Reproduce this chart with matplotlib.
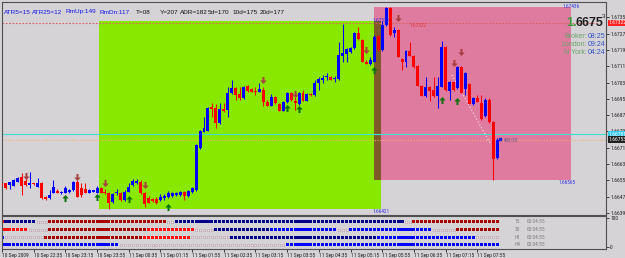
import numpy as np
import matplotlib
matplotlib.use("Agg")
import matplotlib.pyplot as plt
from matplotlib import font_manager
from matplotlib.path import Path
from matplotlib.patches import Rectangle

W, H = 625, 258
BG = '#d6d3d6'

_have = {f.name for f in font_manager.fontManager.ttflist}
NARROW = next((n for n in ['Liberation Sans Narrow', 'DejaVu Sans Condensed', 'Roboto Condensed',
                           'Open Sans Condensed'] if n in _have), None)
TICK_FS = 4.0 if NARROW else 3.5
NARROW = NARROW or 'Liberation Sans'
plt.rcParams['font.family'] = [NARROW, 'Liberation Sans', 'DejaVu Sans']

# 5 minute bars, 10 Sep 21:55 .. 11 Sep 08:20
opens = [1.66540, 1.66543, 1.66533, 1.66530, 1.66549, 1.66572, 1.66553, 1.66535, 1.66541, 1.66525,
         1.66543, 1.66476, 1.66470, 1.66496, 1.66505, 1.66493, 1.66494, 1.66498, 1.66509, 1.66549,
         1.66518, 1.66514, 1.66496, 1.66499, 1.66496, 1.66518, 1.66500, 1.66494, 1.66452, 1.66494,
         1.66494, 1.66460, 1.66500, 1.66535, 1.66543, 1.66549, 1.66494, 1.66470, 1.66465, 1.66465,
         1.66460, 1.66468, 1.66475, 1.66480, 1.66484, 1.66484, 1.66500, 1.66480, 1.66498, 1.66509,
         1.66712, 1.66793, 1.66798, 1.66911, 1.66907, 1.66837, 1.66903, 1.66898, 1.66983, 1.67004,
         1.66976, 1.66955, 1.67015, 1.66999, 1.66992, 1.66988, 1.66996, 1.66939, 1.66920, 1.66960,
         1.66928, 1.66895, 1.66939, 1.66983, 1.66944, 1.66928, 1.66983, 1.66944, 1.66976, 1.66971,
         1.67028, 1.67044, 1.67058, 1.67061, 1.67048, 1.67049, 1.67161, 1.67170, 1.67182, 1.67199,
         1.67272, 1.67239, 1.67134, 1.67122, 1.67134, 1.67259, 1.67191, 1.67312, 1.67394, 1.67272,
         1.67288, 1.67145, 1.67134, 1.67187, 1.67163, 1.67113, 1.67015, 1.66966, 1.67009, 1.66996,
         1.66966, 1.67012, 1.67204, 1.66992, 1.67036, 1.67004, 1.67106, 1.66999, 1.67025, 1.66928,
         1.66958, 1.66931, 1.66869, 1.66947, 1.66842, 1.66663]
highs = [1.66543, 1.66545, 1.66550, 1.66560, 1.66574, 1.66591, 1.66577, 1.66595, 1.66543, 1.66567,
         1.66548, 1.66480, 1.66509, 1.66557, 1.66514, 1.66504, 1.66528, 1.66514, 1.66553, 1.66557,
         1.66543, 1.66543, 1.66514, 1.66511, 1.66528, 1.66523, 1.66514, 1.66499, 1.66494, 1.66514,
         1.66499, 1.66509, 1.66541, 1.66561, 1.66560, 1.66555, 1.66499, 1.66480, 1.66472, 1.66475,
         1.66489, 1.66489, 1.66504, 1.66497, 1.66499, 1.66504, 1.66504, 1.66509, 1.66521, 1.66733,
         1.66801, 1.66866, 1.66913, 1.66931, 1.66928, 1.66931, 1.66931, 1.67012, 1.67044, 1.67010,
         1.67012, 1.67015, 1.67018, 1.67003, 1.67012, 1.67028, 1.67012, 1.66945, 1.66976, 1.66964,
         1.66932, 1.66942, 1.66986, 1.66986, 1.66962, 1.66986, 1.66996, 1.66981, 1.66981, 1.67044,
         1.67061, 1.67069, 1.67077, 1.67064, 1.67064, 1.67231, 1.67317, 1.67200, 1.67205, 1.67278,
         1.67301, 1.67244, 1.67142, 1.67158, 1.67264, 1.67264, 1.67333, 1.67401, 1.67401, 1.67304,
         1.67293, 1.67152, 1.67191, 1.67231, 1.67166, 1.67117, 1.67020, 1.67061, 1.67013, 1.67061,
         1.67061, 1.67234, 1.67210, 1.67039, 1.67039, 1.67113, 1.67110, 1.67081, 1.67030, 1.66963,
         1.66971, 1.66971, 1.66955, 1.66955, 1.66845, 1.66761]
lows = [1.66533, 1.66516, 1.66514, 1.66528, 1.66548, 1.66484, 1.66526, 1.66520, 1.66535, 1.66523,
        1.66467, 1.66462, 1.66467, 1.66494, 1.66494, 1.66489, 1.66492, 1.66494, 1.66504, 1.66475,
        1.66476, 1.66494, 1.66492, 1.66497, 1.66494, 1.66492, 1.66489, 1.66416, 1.66445, 1.66484,
        1.66455, 1.66455, 1.66497, 1.66528, 1.66538, 1.66489, 1.66424, 1.66445, 1.66450, 1.66440,
        1.66455, 1.66460, 1.66470, 1.66475, 1.66480, 1.66480, 1.66460, 1.66475, 1.66494, 1.66504,
        1.66706, 1.66789, 1.66794, 1.66866, 1.66811, 1.66830, 1.66890, 1.66866, 1.66976, 1.66947,
        1.66947, 1.66952, 1.66988, 1.66984, 1.66971, 1.66984, 1.66918, 1.66916, 1.66916, 1.66928,
        1.66891, 1.66891, 1.66932, 1.66944, 1.66898, 1.66923, 1.66940, 1.66940, 1.66966, 1.66966,
        1.66996, 1.67028, 1.67044, 1.67042, 1.67036, 1.67044, 1.67134, 1.67134, 1.67178, 1.67196,
        1.67239, 1.67132, 1.67120, 1.67117, 1.67130, 1.67186, 1.67186, 1.67307, 1.67259, 1.67255,
        1.67154, 1.67093, 1.67109, 1.67161, 1.67105, 1.67013, 1.66964, 1.66962, 1.66944, 1.66962,
        1.66907, 1.67008, 1.66993, 1.66947, 1.66993, 1.67001, 1.66981, 1.66971, 1.66925, 1.66923,
        1.66937, 1.66850, 1.66864, 1.66837, 1.66557, 1.66660]
closes = [1.66535, 1.66518, 1.66548, 1.66557, 1.66569, 1.66528, 1.66533, 1.66543, 1.66536, 1.66543,
          1.66470, 1.66465, 1.66484, 1.66525, 1.66496, 1.66500, 1.66518, 1.66509, 1.66548, 1.66476,
          1.66484, 1.66496, 1.66509, 1.66509, 1.66518, 1.66494, 1.66493, 1.66447, 1.66489, 1.66499,
          1.66460, 1.66500, 1.66525, 1.66554, 1.66554, 1.66493, 1.66440, 1.66447, 1.66455, 1.66445,
          1.66476, 1.66481, 1.66496, 1.66493, 1.66493, 1.66500, 1.66480, 1.66504, 1.66517, 1.66728,
          1.66796, 1.66809, 1.66907, 1.66902, 1.66834, 1.66903, 1.66895, 1.66983, 1.67004, 1.66971,
          1.66955, 1.67012, 1.66992, 1.66988, 1.66988, 1.66999, 1.66939, 1.66920, 1.66960, 1.66931,
          1.66895, 1.66939, 1.66983, 1.66947, 1.66931, 1.66983, 1.66944, 1.66976, 1.66970, 1.67028,
          1.67049, 1.67053, 1.67064, 1.67044, 1.67056, 1.67166, 1.67174, 1.67194, 1.67201, 1.67272,
          1.67243, 1.67134, 1.67122, 1.67142, 1.67255, 1.67191, 1.67312, 1.67394, 1.67264, 1.67288,
          1.67158, 1.67134, 1.67187, 1.67163, 1.67109, 1.67015, 1.66966, 1.67009, 1.66991, 1.66966,
          1.67015, 1.67204, 1.66996, 1.67036, 1.66996, 1.67109, 1.66983, 1.67077, 1.66928, 1.66958,
          1.66939, 1.66853, 1.66947, 1.66842, 1.66658, 1.66753]

# fractal style arrows
down_bars = [6, 19, 26, 36, 66, 74, 92, 100, 114, 116]
down_px = [1.66577, 1.66572, 1.66543, 1.66535, 1.67044, 1.66976, 1.67191, 1.67346, 1.67127, 1.67181]
up_bars = [16, 24, 32, 42, 72, 75, 94, 111, 115]
up_px = [1.66470, 1.66475, 1.66467, 1.66428, 1.66906, 1.66901, 1.67091, 1.66947, 1.66942]

# session boxes (bar index range, price range)
asia_x = (24.6, 95.7)
asia_y = (1.66416, 1.67333)
london_x = (93.9, 143.7)
london_y = (1.66557, 1.67401)
asia_labels = ('1.67332', '1.66421')
london_labels = ('1.67436', '1.66565')

bid = 1.66753
cyan_level = 1.66781
red_level = 1.67322
trend_x = [113.6, 123.2]
trend_y = [1.67069, 1.66738]

price_ticks = [1.67350, 1.67270, 1.67190, 1.67110, 1.67030, 1.66950, 1.66875,
               1.66795, 1.66715, 1.66635, 1.66555, 1.66475, 1.66395]
time_ticks = list(range(0, 121, 8))
time_labels = ['10 Sep 2009', '10 Sep 22:35', '10 Sep 23:15', '10 Sep 23:55', '11 Sep 00:35',
               '11 Sep 01:15', '11 Sep 01:55', '11 Sep 02:35', '11 Sep 03:15', '11 Sep 03:55',
               '11 Sep 04:35', '11 Sep 05:15', '11 Sep 05:55', '11 Sep 06:35', '11 Sep 07:15',
               '11 Sep 07:55']

# trend strength rows (run lengths per bar)
row_names = ['15', '30', 'H1', 'H4']
row_runs = [
    [('R', 1), ('b', 8), ('o', 3), ('r', 30), ('o', 2), ('b', 58), ('o', 2), ('r', 22)],
    [('R', 7), ('o', 5), ('r', 25), ('R', 12), ('o', 5), ('b', 14), ('B', 17), ('o', 3),
     ('B', 21), ('o', 6), ('r', 11)],
    [('B', 1), ('o', 10), ('r', 25), ('R', 12), ('o', 10), ('b', 37), ('B', 25), ('o', 6)],
    [('B', 30), ('o', 42), ('B', 54)],
]
row_timer = '00:04:55'

fig = plt.figure(figsize=(W / 100, H / 100), dpi=100, facecolor=BG)


def px_box(x0, y0, x1, y1):
    return [x0 / W, 1 - y1 / H, (x1 - x0) / W, (y1 - y0) / H]


ax = fig.add_axes(px_box(2, 2, 606, 215), facecolor=BG)
sub = fig.add_axes(px_box(2, 216, 606, 249), facecolor=BG)

ax.set_xlim(0, 152.5)
ax.set_ylim(1.66387, 1.67424)

# boxes
ax.add_patch(Rectangle((asia_x[0], asia_y[0]), asia_x[1] - asia_x[0], asia_y[1] - asia_y[0],
                       facecolor='#88e800', lw=0, zorder=1))
ax.add_patch(Rectangle((london_x[0], london_y[0]), london_x[1] - london_x[0], london_y[1] - london_y[0],
                       facecolor='#e07ba0', lw=0, zorder=1))
ov_x0, ov_x1 = max(asia_x[0], london_x[0]), min(asia_x[1], london_x[1])
ov_y0, ov_y1 = max(asia_y[0], london_y[0]), min(asia_y[1], london_y[1])
ax.add_patch(Rectangle((ov_x0, ov_y0), ov_x1 - ov_x0, ov_y1 - ov_y0,
                       facecolor='#7d5a28', lw=0, zorder=1.5))

# level lines
ax.axhline(cyan_level, color='#40e0d0', lw=0.8, zorder=2)
ax.axhline(bid, color='#f0b070', lw=0.8, ls=(0, (1, 1.5)), zorder=2)
ax.axhline(red_level, xmax=0.985, color='#d86060', lw=0.8, ls=(0, (1.5, 1.5)), zorder=2)
ax.plot(trend_x, trend_y, color='#f8e4ee', lw=0.8, ls=(0, (1, 2)), zorder=2)

# candles
bars = np.arange(len(opens))
o, h, l, c = map(np.array, (opens, highs, lows, closes))
col = np.where(c >= o, '#0000ff', '#ff0000')
ax.vlines(bars, l, h, colors=col, lw=0.75, zorder=3)
body_lo = np.minimum(o, c)
body_h = np.maximum(np.abs(c - o), 0.00005)
ax.bar(bars, body_h, bottom=body_lo, width=0.75, color=col, lw=0, zorder=4)

# arrows
down_path = Path([(-0.14, 0.5), (0.14, 0.5), (0.14, 0.0), (0.45, 0.0), (0.0, -0.5),
                  (-0.45, 0.0), (-0.14, 0.0), (-0.14, 0.5)], closed=True)
up_path = Path([(x, -y) for x, y in down_path.vertices], closed=True)
ax.scatter(down_bars, down_px, marker=down_path, s=26, color='#a84040', lw=0, zorder=5)
ax.scatter(up_bars, up_px, marker=up_path, s=26, color='#0c700c', lw=0, zorder=5)

# box labels
small = dict(fontsize=3.8, color='#3030e0', zorder=6)
ax.text(asia_x[1], asia_y[1], asia_labels[0], ha='center', va='center', **small)
ax.text(asia_x[1], asia_y[0], asia_labels[1], ha='center', va='top', **small)
ax.text(london_x[1], london_y[1], london_labels[0], ha='center', va='center', **small)
ax.text(london_x[1] - 1, london_y[0], london_labels[1], ha='center', va='top', **small)
ax.text(103, red_level, f'{red_level:.5f}', ha='left', va='top', fontsize=3.8,
        color='#e03838', zorder=6)
ax.scatter([bars[-1] + 0.8], [bid + 0.00005], marker='s', s=3, color='#2020d0', zorder=6)
ax.text(bars[-1] + 1.6, bid - 0.00002, '408/33', fontsize=3.6, color='#6a5a8a', va='center', zorder=6)

# axes styling
for sp in ax.spines.values():
    sp.set_color('#505050')
    sp.set_linewidth(0.8)
ax.set_xticks([])
ax.yaxis.tick_right()
ax.set_yticks(price_ticks)
ax.set_yticklabels([f'{v:.5f}' for v in price_ticks])
ax.tick_params(axis='y', length=2, width=0.6, pad=1, labelsize=TICK_FS, colors='#202020')

# right axis price boxes
ytr = ax.get_yaxis_transform()
for val, fc in ((red_level, '#ff2020'), (cyan_level, '#30c8f0'), (bid, '#202020')):
    ax.text(1.004, val, f'{val:.5f}', transform=ytr, fontsize=TICK_FS, color='white', va='center',
            ha='left', clip_on=False, zorder=7,
            bbox=dict(boxstyle='square,pad=0.15', fc=fc, ec='none'))

# subwindow
sub.set_xlim(0, 152.5)
sub.set_ylim(-6, 106)
row_levels = [86, 60, 34, 8]
fills = {'R': '#ff1010', 'r': '#a80000', 'B': '#0000ff', 'b': '#00008c'}
for lvl, runs, name in zip(row_levels, row_runs, row_names):
    codes = ''.join(k * n for k, n in runs)
    idx = np.arange(len(codes))
    solid = np.array([k != 'o' for k in codes])
    sub.scatter(idx[solid], np.full(solid.sum(), lvl), marker='s', s=5.0,
                color=[fills[k] for k in codes if k != 'o'], lw=0)
    sub.scatter(idx[~solid], np.full((~solid).sum(), lvl), marker='s', s=4.0,
                facecolor='#f4f0f4', edgecolor='#b89aa6', lw=0.45)
    sub.text(129.5, lvl, name, fontsize=TICK_FS, color='#808080', va='center', ha='left')
    sub.text(132.5, lvl, row_timer, fontsize=TICK_FS, color='#808080', va='center', ha='left')

for sp in sub.spines.values():
    sp.set_color('#505050')
    sp.set_linewidth(0.8)
sub.spines['top'].set_linestyle((0, (1, 1)))
sub.yaxis.tick_right()
sub.set_yticks([100, 0])
sub.set_yticklabels(['100', '0'])
sub.tick_params(axis='y', length=2, width=0.6, pad=1, labelsize=TICK_FS, colors='#202020')
sub.set_xticks(time_ticks)
sub.set_xticklabels(time_labels, ha='left')
sub.tick_params(axis='x', length=2, width=0.6, pad=1, labelsize=TICK_FS, colors='#202020')


# header texts
def ftext(x, y, s, **kw):
    fig.text(x / W, 1 - y / H, s, va='center', **kw)


hdr = dict(fontsize=4.6, family=['Liberation Sans', 'DejaVu Sans'])
ftext(4, 12, 'ATR5=15', color='#1010e8', **hdr)
ftext(32, 12, 'ATR25=12', color='#1010e8', **hdr)
ftext(65, 12, 'RmUp:149', color='#1010e8', **hdr)
ftext(100, 12, 'RmDn:117', color='#1010e8', **hdr)
ftext(136, 12, 'T=08', color='#101010', **hdr)
ftext(160, 12, 'Y=207', color='#101010', **hdr)
ftext(180, 12, 'ADR=182', color='#101010', **hdr)
ftext(208, 12, '5d=170', color='#101010', **hdr)
ftext(232, 12, '10d=175', color='#101010', **hdr)
ftext(260, 12, '20d=177', color='#101010', **hdr)

big = dict(fontsize=9, fontweight='bold', family=['Liberation Sans', 'DejaVu Sans'])
ftext(566, 23, '1.', color='#3c9a3c', **big)
ftext(575, 23, '6675', color='#202020', **big)
ftext(602, 17, '3', fontsize=4.5, color='#202020', family=['Liberation Sans', 'DejaVu Sans'])

clk = dict(fontsize=5, family=['Liberation Sans', 'DejaVu Sans'])
for y, name, t in ((37, 'Broker:', '08:25'), (45, 'London:', '09:24'), (52, 'N York:', '04:24')):
    ftext(587, y, name, color='#68a068', ha='right', **clk)
    ftext(588, y, t, color='#3050c8', ha='left', **clk)

fig.savefig('out.png', dpi=100, facecolor=BG)
